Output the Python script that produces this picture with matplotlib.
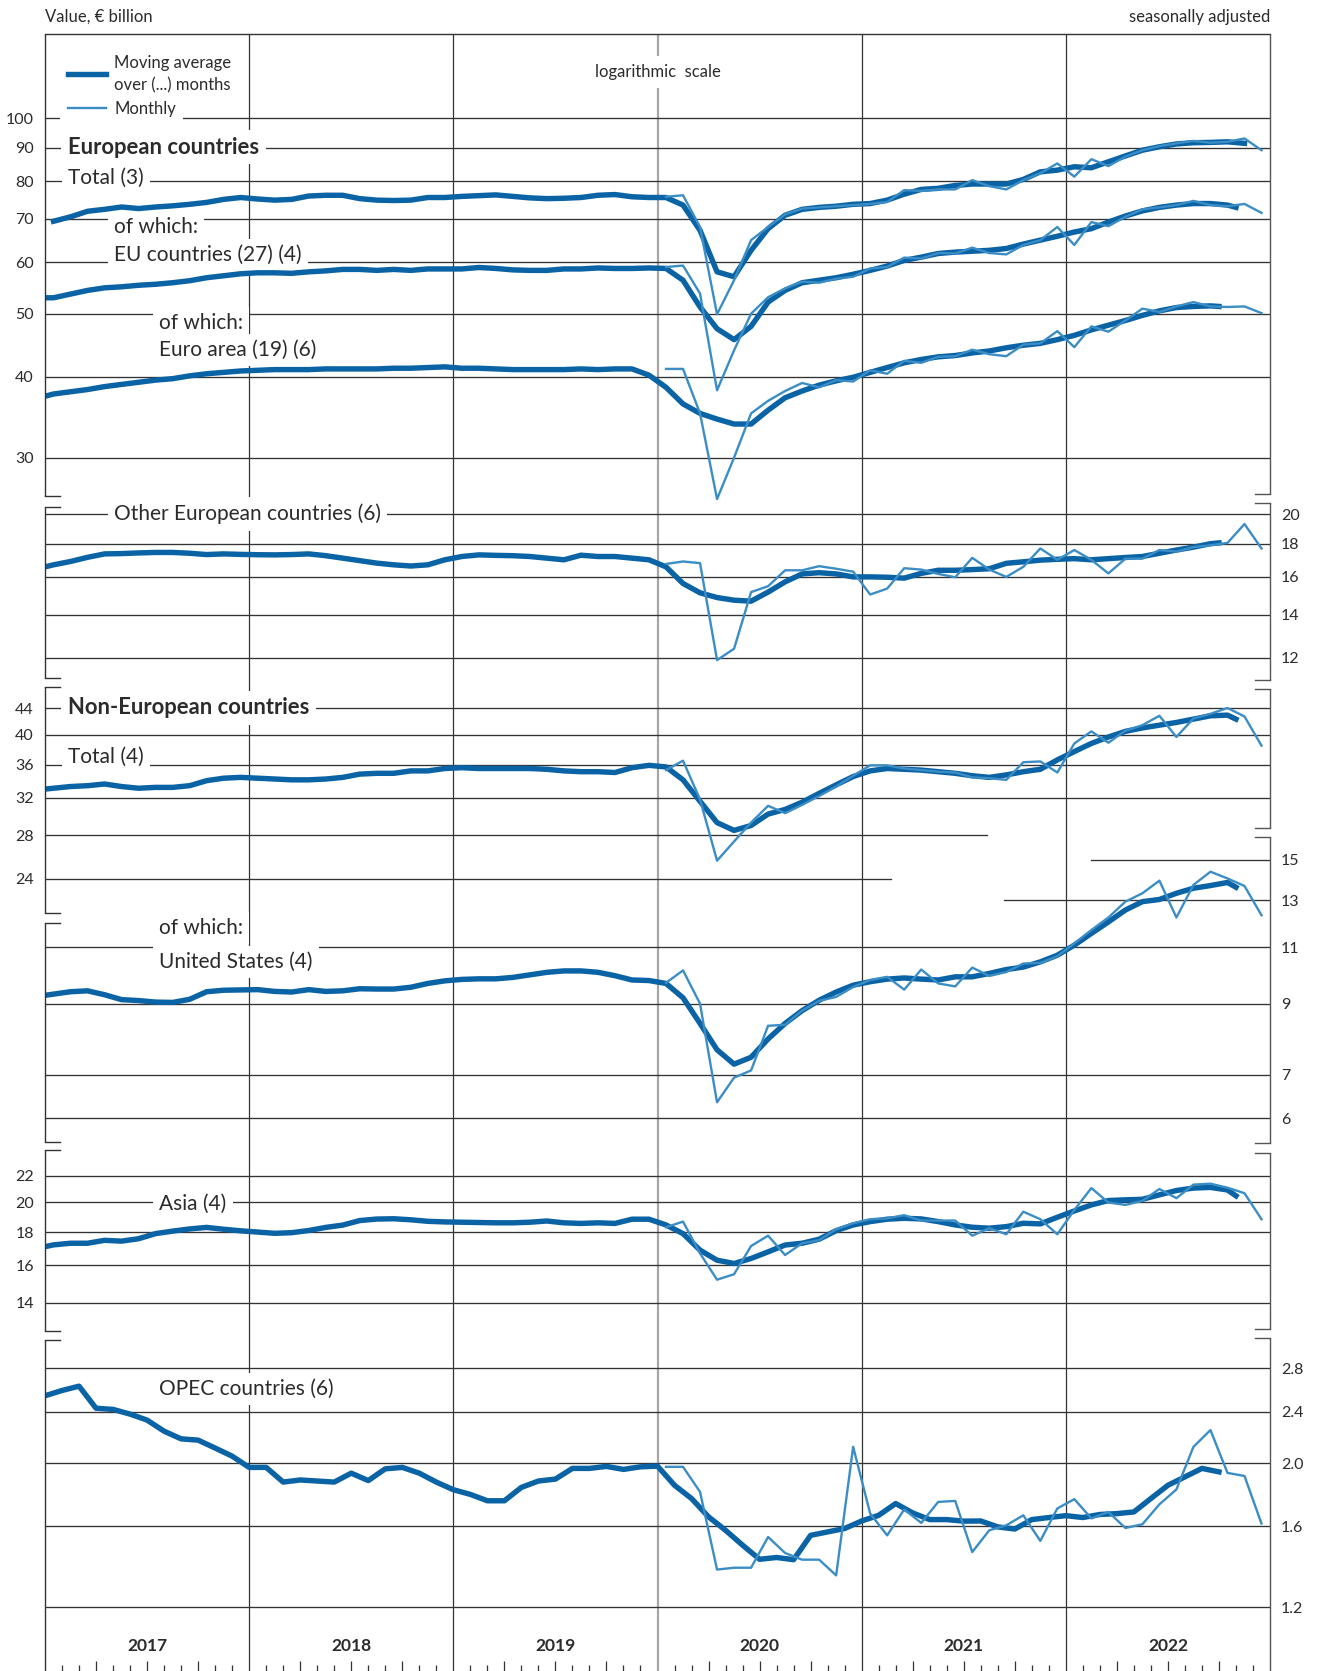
import numpy as np
import matplotlib
matplotlib.use("Agg")
import matplotlib.pyplot as plt
from matplotlib.ticker import NullLocator
from matplotlib.transforms import Affine2D, blended_transform_factory
from matplotlib.patches import Rectangle

plt.rcParams['font.family'] = ['Lato', 'DejaVu Sans']

# ---- data (value, EUR billion, monthly points Jan 2017 .. Dec 2022) ----
years = ['2017', '2018', '2019', '2020', '2021', '2022']

# moving averages read at mid-month; for the even windows the first value sits
# on the left edge and the last value on the month boundary (centred average)
total3_ma = [69.4, 70.5, 71.9, 72.4, 73.0, 72.6, 73.0, 73.3, 73.7, 74.2, 75.0, 75.5,
             75.1, 74.8, 75.0, 75.9, 76.1, 76.1, 75.2, 74.8, 74.7, 74.8, 75.5, 75.5,
             75.8, 76.0, 76.2, 75.8, 75.4, 75.2, 75.3, 75.5, 76.1, 76.3, 75.7, 75.5,
             75.5, 73.5, 67.2, 58.0, 57.0, 62.6, 67.6, 70.9, 72.4, 72.9, 73.2, 73.7,
             73.9, 74.8, 76.4, 77.7, 78.0, 78.8, 79.2, 79.2, 79.2, 80.5, 82.7, 83.2,
             84.2, 83.9, 85.7, 87.5, 89.3, 90.4, 91.3, 91.7, 91.8, 92.0, 91.5]
total3_m = [75.7, 76.1, 68.0, 49.9, 56.3, 64.9, 68.0, 71.1, 72.6, 72.9, 73.2, 73.5,
            73.8, 74.3, 77.5, 77.3, 77.7, 77.7, 80.3, 78.6, 77.7, 80.3, 82.3, 85.2,
            81.3, 86.5, 84.4, 87.3, 89.3, 90.6, 91.5, 92.3, 91.7, 92.0, 93.1, 89.3]

eu_ma = [52.9,
         52.9, 53.6, 54.3, 54.8, 55.0, 55.3, 55.5, 55.8, 56.2, 56.8, 57.2, 57.6,
         57.8, 57.8, 57.7, 58.0, 58.2, 58.5, 58.5, 58.3, 58.5, 58.3, 58.6, 58.6,
         58.6, 58.9, 58.7, 58.4, 58.3, 58.3, 58.6, 58.6, 58.8, 58.7, 58.7, 58.8,
         58.7, 56.3, 51.2, 47.4, 45.6, 47.8, 52.1, 54.3, 55.8, 56.3, 56.8, 57.5,
         58.3, 59.2, 60.4, 61.1, 61.9, 62.2, 62.4, 62.6, 63.0, 64.0, 64.9, 65.8,
         66.8, 67.6, 69.2, 70.7, 72.0, 72.9, 73.5, 73.9, 73.9, 73.5,
         72.9]
eu_m = [59.0, 59.3, 53.7, 38.1, 43.9, 50.0, 53.0, 54.7, 56.0, 55.8, 56.6, 57.0,
        58.7, 59.0, 61.0, 60.8, 62.0, 61.9, 63.2, 62.0, 61.7, 63.8, 64.9, 68.0,
        63.8, 69.2, 68.2, 70.5, 72.4, 72.9, 73.5, 74.6, 73.5, 73.2, 73.8, 71.5]

ea_ma = [37.3,
         37.6, 37.9, 38.2, 38.6, 38.9, 39.2, 39.5, 39.7, 40.1, 40.4, 40.6, 40.8,
         40.9, 41.0, 41.0, 41.0, 41.1, 41.1, 41.1, 41.1, 41.2, 41.2, 41.3, 41.4,
         41.2, 41.2, 41.1, 41.0, 41.0, 41.0, 41.0, 41.1, 41.0, 41.1, 41.1, 40.2,
         38.5, 36.3, 35.1, 34.4, 33.8, 33.8, 35.5, 37.1, 38.0, 38.8, 39.4, 39.9,
         40.6, 41.3, 42.0, 42.5, 42.9, 43.1, 43.5, 43.8, 44.3, 44.7, 45.0, 45.6,
         46.3, 47.2, 48.0, 48.8, 49.7, 50.5, 51.1, 51.3, 51.4,
         51.3]
ea_m = [41.1, 41.1, 35.1, 25.9, 30.0, 35.1, 36.7, 38.0, 39.1, 38.5, 39.5, 39.3,
        40.9, 40.4, 42.3, 42.0, 42.9, 43.0, 44.0, 43.3, 43.0, 44.8, 45.0, 47.0,
        44.4, 47.8, 46.9, 48.8, 50.9, 50.3, 51.3, 52.1, 51.3, 51.2, 51.3, 50.1]

oth_ma = [16.58,
          16.7, 16.9, 17.15, 17.36, 17.38, 17.42, 17.45, 17.45, 17.4, 17.32, 17.36, 17.33,
          17.31, 17.3, 17.32, 17.36, 17.25, 17.1, 16.95, 16.8, 16.7, 16.63, 16.7, 17.0,
          17.2, 17.3, 17.27, 17.25, 17.2, 17.1, 17.0, 17.28, 17.2, 17.2, 17.1, 17.0,
          16.58, 15.63, 15.12, 14.87, 14.73, 14.68, 15.16, 15.72, 16.17, 16.24, 16.17, 16.0,
          16.0, 15.98, 15.93, 16.2, 16.38, 16.38, 16.42, 16.47, 16.79, 16.88, 16.98, 17.03,
          17.07, 17.0, 17.07, 17.14, 17.2, 17.4, 17.6, 17.78, 18.0,
          18.05]
oth_m = [16.75, 16.9, 16.8, 11.91, 12.4, 15.16, 15.48, 16.38, 16.38, 16.62, 16.47, 16.3,
         15.03, 15.35, 16.5, 16.42, 16.17, 15.98, 17.12, 16.42, 16.0, 16.58, 17.7, 17.0,
         17.6, 17.0, 16.2, 17.07, 17.07, 17.6, 17.5, 17.78, 17.9, 18.05, 19.3, 17.7]

neu_ma = [33.0,
          33.1, 33.3, 33.4, 33.6, 33.3, 33.1, 33.2, 33.2, 33.4, 34.0, 34.3, 34.4,
          34.3, 34.2, 34.1, 34.1, 34.2, 34.4, 34.8, 34.9, 34.9, 35.2, 35.2, 35.5,
          35.6, 35.5, 35.5, 35.5, 35.5, 35.4, 35.2, 35.1, 35.1, 35.0, 35.6, 35.9,
          35.7, 34.1, 31.6, 29.3, 28.5, 29.0, 30.2, 30.7, 31.5, 32.5, 33.5, 34.5,
          35.2, 35.5, 35.4, 35.3, 35.1, 34.9, 34.6, 34.4, 34.7, 35.1, 35.4, 36.6,
          37.7, 38.8, 39.7, 40.5, 41.0, 41.4, 41.8, 42.3, 42.8, 42.9,
          42.3]
neu_m = [35.3, 36.5, 31.8, 25.6, 27.4, 29.3, 31.1, 30.3, 31.2, 32.2, 33.3, 34.6,
         35.9, 35.9, 35.5, 35.3, 35.1, 35.0, 34.4, 34.3, 34.1, 36.3, 36.4, 35.0,
         38.8, 40.5, 38.9, 40.6, 41.4, 42.8, 39.7, 42.4, 43.1, 44.0, 42.7, 38.5]

us_ma = [9.28,
         9.32, 9.40, 9.43, 9.30, 9.14, 9.11, 9.06, 9.05, 9.15, 9.40, 9.45, 9.46,
         9.47, 9.41, 9.39, 9.47, 9.41, 9.43, 9.50, 9.49, 9.49, 9.55, 9.68, 9.77,
         9.82, 9.84, 9.84, 9.89, 9.98, 10.07, 10.12, 10.12, 10.07, 9.95, 9.80, 9.78,
         9.68, 9.2, 8.4, 7.65, 7.27, 7.45, 7.95, 8.4, 8.79, 9.12, 9.39, 9.62,
         9.74, 9.83, 9.87, 9.83, 9.80, 9.91, 9.91, 10.03, 10.17, 10.26, 10.45, 10.7,
         11.09, 11.56, 12.04, 12.56, 12.94, 13.04, 13.33, 13.57, 13.7, 13.85,
         13.62]
us_m = [9.70, 10.14, 9.01, 6.35, 6.93, 7.11, 8.33, 8.36, 8.79, 9.10, 9.23, 9.56,
        9.80, 9.91, 9.47, 10.17, 9.68, 9.58, 10.24, 9.94, 10.08, 10.39, 10.41, 10.66,
        11.16, 11.70, 12.23, 12.94, 13.33, 13.94, 12.23, 13.73, 14.39, 14.05, 13.68, 12.33]

asia_ma = [17.09,
           17.2, 17.3, 17.3, 17.48, 17.43, 17.58, 17.9, 18.06, 18.2, 18.3, 18.18, 18.08,
           18.0, 17.92, 17.96, 18.1, 18.3, 18.45, 18.75, 18.85, 18.87, 18.8, 18.7, 18.66,
           18.64, 18.62, 18.6, 18.6, 18.64, 18.72, 18.6, 18.56, 18.6, 18.56, 18.84, 18.84,
           18.46, 17.9, 16.88, 16.29, 16.1, 16.39, 16.78, 17.19, 17.3, 17.55, 18.09, 18.46,
           18.68, 18.84, 18.9, 18.86, 18.68, 18.46, 18.31, 18.25, 18.35, 18.57, 18.53, 18.97,
           19.4, 19.82, 20.13, 20.18, 20.22, 20.54, 20.86, 21.04, 21.09, 20.9,
           20.47]
asia_m = [18.31, 18.68, 16.69, 15.2, 15.5, 17.13, 17.77, 16.59, 17.3, 17.49, 18.18, 18.57,
          18.84, 18.9, 19.11, 18.75, 18.75, 18.75, 17.77, 18.25, 17.86, 19.35, 18.84, 17.86,
          19.47, 21.04, 19.99, 19.82, 20.11, 20.97, 20.3, 21.3, 21.37, 21.07, 20.66, 18.84]

# OPEC 6-month average, read at month boundaries
opec_ma = [2.54, 2.588, 2.628, 2.43, 2.42, 2.38, 2.33, 2.24, 2.18, 2.17, 2.11, 2.05,
           1.97, 1.97, 1.87, 1.884, 1.877, 1.87, 1.93, 1.88, 1.96, 1.97, 1.93, 1.87,
           1.82, 1.79, 1.75, 1.75, 1.835, 1.877, 1.89, 1.963, 1.963, 1.977, 1.956, 1.974,
           1.979, 1.849, 1.764, 1.653, 1.576, 1.495, 1.422, 1.431, 1.420, 1.548, 1.567, 1.586,
           1.629, 1.662, 1.733, 1.676, 1.637, 1.637, 1.628, 1.629, 1.595, 1.583, 1.637, 1.649,
           1.66, 1.649, 1.667, 1.672, 1.682, 1.764, 1.849, 1.905, 1.963, 1.939]
opec_m = [1.974, 1.974, 1.806, 1.371, 1.380, 1.380, 1.539, 1.454, 1.420, 1.420, 1.343, 2.119,
          1.672, 1.548, 1.697, 1.618, 1.743, 1.749, 1.459, 1.576, 1.604, 1.662, 1.518, 1.703,
          1.760, 1.644, 1.682, 1.589, 1.610, 1.728, 1.822, 2.119, 2.249, 1.932, 1.911, 1.614]

# ---- layout ----
W, H = 1318, 1671
X0, X1, Y0 = 45, 1270, 34      # frame in pixels (top-left origin)
K = 649.0                      # pixels per decade, same for every panel
DARK, LIGHT = '#0a63a5', '#3b8dc6'
TXT, GRID = '#2b2b2b', '#333333'

fig = plt.figure(figsize=(W / 100, H / 100), dpi=100)
PIX = Affine2D().scale(1 / W, -1 / H).translate(0, 1) + fig.transFigure
rect = [X0 / W, 0, (X1 - X0) / W, 1 - Y0 / H]

fig.text(X0 / W, 1 - 17 / H, 'Value, € billion', fontsize=12, color=TXT, va='center')
fig.text(X1 / W, 1 - 17 / H, 'seasonally adjusted', fontsize=12, color=TXT,
         va='center', ha='right')

# background: frame top, year lines, month ticks
bg = fig.add_axes(rect)
bg.set_xlim(0, 72)
bg.set_ylim(0, 1)
bg.set_yticks([])
for s in ['left', 'right', 'bottom']:
    bg.spines[s].set_visible(False)
bg.spines['top'].set_color(GRID)
bg.spines['top'].set_linewidth(1.0)
for i in range(1, 6):
    if i == 3:
        bg.axvline(12 * i, color='#a6a6a6', lw=1.6, zorder=1)
    else:
        bg.axvline(12 * i, color=GRID, lw=0.9, zorder=1)
bg.set_xticks([q for q in range(3, 72, 3) if q % 12])
bg.set_xticks([m for m in range(1, 72) if m % 3], minor=True)
bg.tick_params(axis='x', which='major', direction='in', length=7, width=0.9,
               color=GRID, labelbottom=False)
bg.tick_params(axis='x', which='minor', direction='in', length=4.3, width=0.9,
               color=GRID)
ytr = blended_transform_factory(bg.transData, PIX)
for i, y in enumerate(years):
    bg.text(12 * i + 6, 1646, y, transform=ytr, ha='center', va='center',
            fontsize=12.5, fontweight='bold', color=TXT)
bg.text(36, 72, 'logarithmic  scale', transform=ytr, ha='center', va='center',
        fontsize=12, color=TXT, zorder=3,
        bbox=dict(boxstyle='square,pad=0.5', fc='white', ec='none'))

month_mid = np.arange(72) + 0.5
x_monthly = month_mid[36:]


def ma_x(vals):
    n = len(vals) - 2
    return np.r_[0.0, np.arange(n) + 0.5, float(n)]


def panel(vref, yref, ticks, side, fmt='{:g}', partial=None):
    ax = fig.add_axes(rect, facecolor='none')
    ax.set_xlim(0, 72)
    ax.set_yscale('log')
    ax.set_ylim(vref * 10 ** (-(H - yref) / K), vref * 10 ** ((yref - Y0) / K))
    for s in ax.spines.values():
        s.set_visible(False)
    ax.set_xticks([])
    ax.yaxis.set_minor_locator(NullLocator())
    ax.set_yticks(ticks)
    ax.set_yticklabels([fmt.format(t) for t in ticks])
    left = side == 'left'
    ax.tick_params(axis='y', length=0, pad=8, labelsize=11.5, labelcolor=TXT,
                   left=False, right=False, labelleft=left, labelright=not left)
    partial = partial or {}
    for t in ticks:
        a, b = partial.get(t, (0, 1))
        ax.axhline(t, a, b, color=GRID, lw=0.95, zorder=1)
    return ax


def label(ax, x, y, s, bold=False):
    ax.text(x, y, s, transform=PIX, ha='left', va='center',
            fontsize=15.8 if bold else 15,
            fontweight='bold' if bold else 'normal', color=TXT, zorder=2,
            bbox=dict(boxstyle='square,pad=0.3', fc='white', ec='none'))


def draw(ax, xm, ma, monthly):
    ax.plot(xm, ma, color=DARK, lw=3.9, solid_joinstyle='round', zorder=3)
    ax.plot(x_monthly, monthly, color=LIGHT, lw=1.7, zorder=4)


# European countries
ax1 = panel(100, 118.3, [100, 90, 80, 70, 60, 50, 40, 30], 'left')
draw(ax1, month_mid[:len(total3_ma)], total3_ma, total3_m)
draw(ax1, ma_x(eu_ma), eu_ma, eu_m)
draw(ax1, ma_x(ea_ma), ea_ma, ea_m)
ax1.add_patch(Rectangle((60, 98), 123, 28, transform=PIX, fc='white', ec='none', zorder=2))
ax1.plot([68, 106], [74, 74], transform=PIX, color=DARK, lw=3.9, zorder=3)
ax1.plot([68, 106], [108, 108], transform=PIX, color=LIGHT, lw=1.7, zorder=3)
for y, s in [(63, 'Moving average'), (85, 'over (...) months'), (109, 'Monthly')]:
    ax1.text(114, y, s, transform=PIX, fontsize=12, color=TXT, va='center', zorder=3)
label(ax1, 68, 147, 'European countries', bold=True)
label(ax1, 68, 178, 'Total (3)')
label(ax1, 114, 227, 'of which:')
label(ax1, 114, 255, 'EU countries (27) (4)')
label(ax1, 159, 323, 'of which:')
label(ax1, 159, 350, 'Euro area (19) (6)')

# Other European countries
ax2 = panel(20, 514, [20, 18, 16, 14, 12], 'right')
draw(ax2, ma_x(oth_ma), oth_ma, oth_m)
label(ax2, 114, 514, 'Other European countries (6)')

# Non-European countries
ax3 = panel(44, 708, [44, 40, 36, 32, 28, 24], 'left',
            partial={28: (0, 0.769), 24: (0, 0.691)})
draw(ax3, ma_x(neu_ma), neu_ma, neu_m)
label(ax3, 68, 708, 'Non-European countries', bold=True)
label(ax3, 68, 757, 'Total (4)')

ax4 = panel(15, 860, [15, 13, 11, 9, 7, 6], 'right',
            partial={15: (0.854, 1), 13: (0.783, 1)})
draw(ax4, ma_x(us_ma), us_ma, us_m)
label(ax4, 159, 928, 'of which:')
label(ax4, 159, 962, 'United States (4)')

ax5 = panel(22, 1175.5, [22, 20, 18, 16, 14], 'left')
draw(ax5, ma_x(asia_ma), asia_ma, asia_m)
label(ax5, 159, 1204, 'Asia (4)')

ax6 = panel(2.8, 1368.3, [2.8, 2.4, 2.0, 1.6, 1.2], 'right', fmt='{:.1f}')
draw(ax6, np.arange(len(opec_ma)), opec_ma, opec_m)
label(ax6, 159, 1389, 'OPEC countries (6)')

# broken frame sides with small brackets
left_parts = [(Y0, 496), (507, 678), (687, 913), (923, 1142), (1150, 1331), (1340, H)]
right_parts = [(Y0, 494), (503, 680), (689, 828), (837, 1143), (1153, 1329), (1338, H)]
for parts, x, d, col in [(left_parts, X0, 15, GRID), (right_parts, X1, -15, '#555555')]:
    for a, b in parts:
        ax6.plot([x, x], [a, b], transform=PIX, color=col, lw=1.0, zorder=5,
                 solid_capstyle='butt', clip_on=False)
        if a != Y0:
            ax6.plot([x, x + d], [a, a], transform=PIX, color=col, lw=1.0, zorder=5,
                     clip_on=False)
        if b != H:
            ax6.plot([x, x + d], [b, b], transform=PIX, color=col, lw=1.0, zorder=5,
                     clip_on=False)

fig.savefig('out.png', dpi=100)
